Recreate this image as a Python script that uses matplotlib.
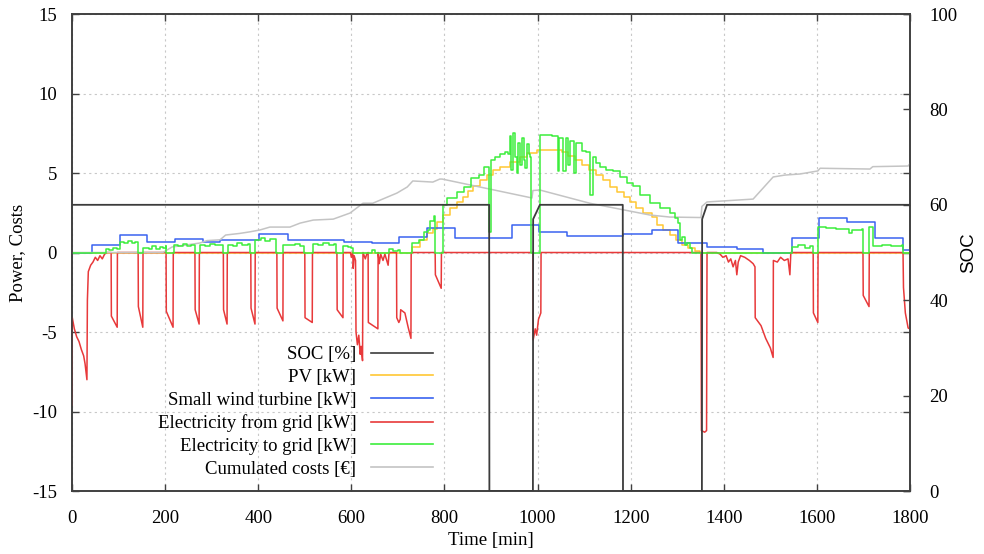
import matplotlib
matplotlib.use("Agg")
import matplotlib.pyplot as plt
from matplotlib.ticker import MultipleLocator

plt.rcParams['font.family'] = ['Liberation Serif', 'DejaVu Serif']
plt.rcParams['axes.unicode_minus'] = False

# ---- data (time in minutes) ----
soc_t = [0, 896, 896.5, 990, 990.5, 1005, 1183, 1183.5, 1353, 1353.5, 1364, 1800]
soc_v = [60, 60, 0, 0, 57, 60, 60, 0, 0, 57, 60, 60]

pv_t = [0, 730, 747, 762, 775, 784, 797, 812, 827, 840, 851, 861, 876, 891, 904, 919, 941,
        962, 977, 999, 1052, 1066, 1080, 1095, 1110, 1125, 1140, 1155, 1170, 1185, 1198, 1212,
        1227, 1245, 1256, 1269, 1284, 1297, 1310, 1323, 1338, 1349, 1800]
pv_v = [0, 0.35, 0.8, 1.2, 1.5, 1.9, 2.35, 2.8, 3.2, 3.5, 3.9, 4.2, 4.55, 4.9, 5.2, 5.4, 5.7,
        6.0, 6.25, 6.45, 6.3, 6.1, 5.8, 5.5, 5.2, 4.9, 4.55, 4.1, 3.8, 3.5, 3.2, 2.8,
        2.5, 2.25, 1.7, 1.4, 1.1, 0.8, 0.5, 0.3, 0.1, 0, 0]

wind_t = [0, 43, 103, 161, 221, 281, 318, 402, 464, 584, 644, 702, 762, 822, 945, 1003, 1063,
          1183, 1245, 1302, 1364, 1428, 1484, 1546, 1604, 1665, 1725, 1785, 1800]
wind_v = [0, 0.5, 1.1, 0.66, 0.85, 0.66, 0.8, 1.16, 0.8, 0.66, 0.6, 0.97, 1.54, 0.9, 1.73, 1.29, 1.04,
          1.16, 1.4, 0.6, 0.35, 0.22, 0, 0.9, 2.17, 1.92, 0.9, 0.15, 0.15]

from_grid_t = [0, 0.5, 5, 10, 15, 20, 25, 28, 32, 33, 35, 40, 45, 50, 55, 60, 65, 70, 75,
               84, 84.5, 97, 97.5, 142, 142.5, 152, 152.5, 202, 202.5, 217, 217.5,
               264, 264.5, 273, 273.5, 325, 325.5, 333, 333.5, 384, 384.5, 393, 393.5,
               440, 440.5, 453, 453.5, 500, 500.5, 516, 516.5, 569, 569.5, 582, 582.5,
               598, 600, 603, 604, 606, 609, 610, 613, 616, 619, 621, 624, 625, 630, 633,
               636, 636.5, 657, 657.5, 660, 663, 668, 672, 679, 681, 697, 697.5, 702, 705,
               706, 715, 722, 728, 728.5, 780, 780.5, 793, 793.5, 990, 990.5, 995, 998,
               1002, 1007, 1007.5, 1351, 1352, 1359, 1363, 1364, 1385, 1392, 1398, 1405,
               1410, 1415, 1420, 1425, 1428, 1431, 1436, 1445, 1455, 1463, 1467, 1467.5,
               1480, 1490, 1500, 1506, 1506.5, 1515, 1522, 1530, 1538, 1542, 1544, 1592,
               1592.5, 1602, 1602.5, 1699, 1699.5, 1712, 1712.5, 1785, 1786, 1790, 1796, 1800]
from_grid_v = [-9.6, -4.1, -4.8, -5.3, -5.6, -6.1, -6.5, -7.0, -8.0, -3.0, -1.2, -0.8, -0.6, -0.3,
               -0.5, -0.2, -0.4, -0.1, 0,
               0, -4.0, -4.7, 0, 0, -3.4, -4.7, 0, 0, -3.7, -4.7, 0,
               0, -3.6, -4.5, 0, 0, -3.6, -4.5, 0, 0, -3.5, -4.5, 0,
               0, -3.5, -4.3, 0, 0, -4.1, -4.4, 0, 0, -3.6, -4.1, 0,
               0, -0.3, 0, -1.0, -0.2, -0.5, -5.0, -5.8, -5.2, -6.4, -5.9, -6.8, 0, -0.4, -0.1,
               0, -4.4, -4.8, 0, -0.7, -0.1, -0.5, -0.1, -0.8, 0, 0, -4.1, -4.4, -4.2,
               -3.6, -3.8, -4.7, -5.4, 0, 0, -1.4, -2.25, 0, 0, -5.5, -4.8, -5.2,
               -4.2, -3.8, 0, 0, -11.2, -11.3, -11.2, 0, 0, -0.1, -0.3, -0.2,
               -0.6, -0.4, -0.9, -0.5, -1.4, -0.6, -0.2, -0.3, -0.5, -0.7, -0.9, -4.1,
               -4.6, -5.4, -6.0, -6.6, -0.5, -0.6, -0.3, -0.5, -0.4, -1.4, 0, 0,
               -3.8, -4.4, 0, 0, -2.7, -3.4, 0, 0, -2.2, -3.8, -4.75, -4.8]

to_grid_t = [0, 71, 72, 80, 88, 96, 103, 104, 112, 120, 128, 136, 141, 142, 152, 153, 165, 172,
             180, 188, 196, 201, 202, 217, 218, 228, 238, 248, 256, 263, 264, 273, 274, 285,
             296, 308, 318, 324, 333, 334, 345, 355, 366, 378, 383, 393, 394, 405, 415, 425,
             435, 439, 453, 454, 465, 478, 490, 499, 516, 517, 528, 540, 552, 562, 568, 582,
             583, 592, 600, 603, 640, 645, 650, 675, 680, 690, 700, 705, 728, 730, 745, 755,
             765, 770, 778, 779, 795, 796, 805, 822, 827, 843, 858, 875, 886, 894, 895, 898,
             899, 908, 919, 930, 936, 941, 944, 948, 952, 955, 958, 962, 966, 970, 974, 978,
             982, 984, 985, 1004, 1005, 1020, 1030, 1040, 1043, 1047, 1055, 1060, 1066, 1070,
             1078, 1083, 1095, 1105, 1112, 1118, 1125, 1135, 1148, 1162, 1177, 1192, 1205,
             1220, 1241, 1263, 1284, 1295, 1302, 1306, 1310, 1317, 1322, 1327, 1332, 1546,
             1547, 1560, 1575, 1585, 1591, 1602, 1603, 1620, 1640, 1660, 1670, 1675, 1697,
             1698, 1711, 1712, 1718, 1720, 1740, 1760, 1783, 1785, 1800]
to_grid_v = [0, 0, 0.2, 0.15, 0.3, 0.25, 0.3, 0.65, 0.6, 0.72, 0.58, 0.68, 0.62, 0, 0, 0.3, 0.25, 0.4,
             0.2, 0.35, 0.3, 0.4, 0, 0, 0.5, 0.42, 0.55, 0.4, 0.5, 0.45, 0, 0, 0.5, 0.42,
             0.55, 0.45, 0.5, 0, 0, 0.5, 0.42, 0.6, 0.45, 0.55, 0, 0, 0.8, 0.9, 0.75, 0.88,
             0.85, 0, 0, 0.5, 0.45, 0.55, 0.42, 0, 0, 0.55, 0.48, 0.6, 0.5, 0.55, 0, 0,
             0.4, 0.35, 0.3, 0, 0, 0.15, 0, 0, 0.2, 0.1, 0.15, 0, 0, 0.6, 0.8, 1.3,
             1.4, 2.0, 2.3, 0, 0, 3.0, 3.4, 3.4, 3.8, 4.1, 4.7, 4.9, 5.4, 5.4, 1.3, 1.3,
             5.8, 6.0, 6.2, 6.3, 6.2, 7.3, 5.2, 7.5, 6.0, 5.0, 6.9, 5.5, 7.2, 5.8, 5.3, 6.8,
             6.2, 6.0, 0, 0, 7.4, 7.4, 7.3, 7.3, 5.1, 7.2, 5.1, 7.2, 5.5, 7.0,
             5.0, 6.9, 6.4, 6.3, 3.6, 6.0, 5.6, 5.4, 5.2, 5.1, 4.75, 4.4, 4.2,
             3.6, 3.1, 2.8, 2.5, 2.2, 1.85, 0.8, 1.0, 0.5, 0.6, 0.3, 0, 0,
             0.35, 0.45, 0.3, 0.4, 0, 0, 1.6, 1.55, 1.5, 1.45, 1.2, 1.4, 1.45,
             0, 0, 1.6, 1.6, 0.4, 0.45, 0.4, 0.45, 0, 0]

cost_t = [0, 195, 215, 240, 275, 290, 318, 330, 360, 382, 404, 425, 468, 490, 518, 561, 597, 625,
          646, 698, 720, 732, 775, 790, 795, 988, 990, 1005, 1112, 1241, 1284, 1351, 1353, 1364,
          1463, 1506, 1531, 1564, 1602, 1607, 1714, 1720, 1796, 1800]
cost_v = [0, 0, 0.35, 0.45, 0.6, 0.75, 0.8, 1.1, 1.2, 1.3, 1.42, 1.6, 1.6, 1.85, 2.04, 2.1, 2.48, 3.1,
          3.1, 3.74, 4.12, 4.5, 4.43, 4.62, 4.62, 3.43, 3.9, 3.93, 3.1, 2.36, 2.23, 2.2, 2.9, 3.18,
          3.36, 4.75, 4.87, 4.94, 5.13, 5.3, 5.25, 5.4, 5.44, 5.6]

labels = ["SOC [%]", "PV [kW]", "Small wind turbine [kW]", "Electricity from grid [kW]",
          "Electricity to grid [kW]", "Cumulated costs [\u20ac]"]
colors = ["#3c3c3c", "#ffc733", "#3a63f0", "#e8393a", "#3cee3c", "#c4c4c4"]

fig = plt.figure(figsize=(9.84, 5.54), dpi=100)
ax = fig.add_axes([0.0732, 0.1137, 0.8516, 0.861])
ax2 = ax.twinx()

lw = 1.1
l_pv, = ax.plot(pv_t, pv_v, drawstyle='steps-post', color=colors[1], lw=lw, zorder=3)
l_wind, = ax.plot(wind_t, wind_v, drawstyle='steps-post', color=colors[2], lw=lw, zorder=4)
l_from, = ax.plot(from_grid_t, from_grid_v, color=colors[3], lw=lw, zorder=5)
l_cost, = ax.plot(cost_t, cost_v, color=colors[5], lw=lw, zorder=6)
l_to, = ax.plot(to_grid_t, to_grid_v, drawstyle='steps-post', color=colors[4], lw=lw, zorder=7)
l_soc, = ax2.plot(soc_t, soc_v, color=colors[0], lw=1.3, zorder=8)

ax.set_xlim(0, 1800)
ax.set_ylim(-15, 15)
ax2.set_ylim(0, 100)
ax.xaxis.set_major_locator(MultipleLocator(200))
ax.yaxis.set_major_locator(MultipleLocator(5))
ax2.yaxis.set_major_locator(MultipleLocator(20))

ax.grid(True, color='#c8c8c8', lw=0.8, linestyle=(0, (2, 3)))
ax.set_axisbelow(True)

fs = 13.5
ax.tick_params(direction='in', length=5, width=1, top=True, right=True, labelsize=fs,
               color='#404040')
ax.tick_params(axis='x', pad=14)
ax.tick_params(axis='y', pad=11)
ax2.tick_params(direction='in', length=5, width=1, labelsize=fs, color='#404040', pad=14)
for a in (ax, ax2):
    for s in a.spines.values():
        s.set_color('#404040')
        s.set_linewidth(1.2)

ax.set_xlabel("Time [min]", fontsize=fs, labelpad=3)
ax.set_ylabel("Power, Costs", fontsize=fs, labelpad=4)
ax2.set_ylabel("SOC", fontsize=fs, family=['Liberation Sans', 'DejaVu Sans'], labelpad=2)

handles = [l_soc, l_pv, l_wind, l_from, l_to, l_cost]
leg = ax.legend(handles, labels, loc='lower right', bbox_to_anchor=(0.44, 0.012),
                markerfirst=False, frameon=False, fontsize=fs, handlelength=3.3,
                labelspacing=0.3, handletextpad=0.8, borderaxespad=0)
for line in leg.get_lines():
    line.set_linewidth(1.2)
leg.set_zorder(20)

fig.savefig("out.png", dpi=100)
